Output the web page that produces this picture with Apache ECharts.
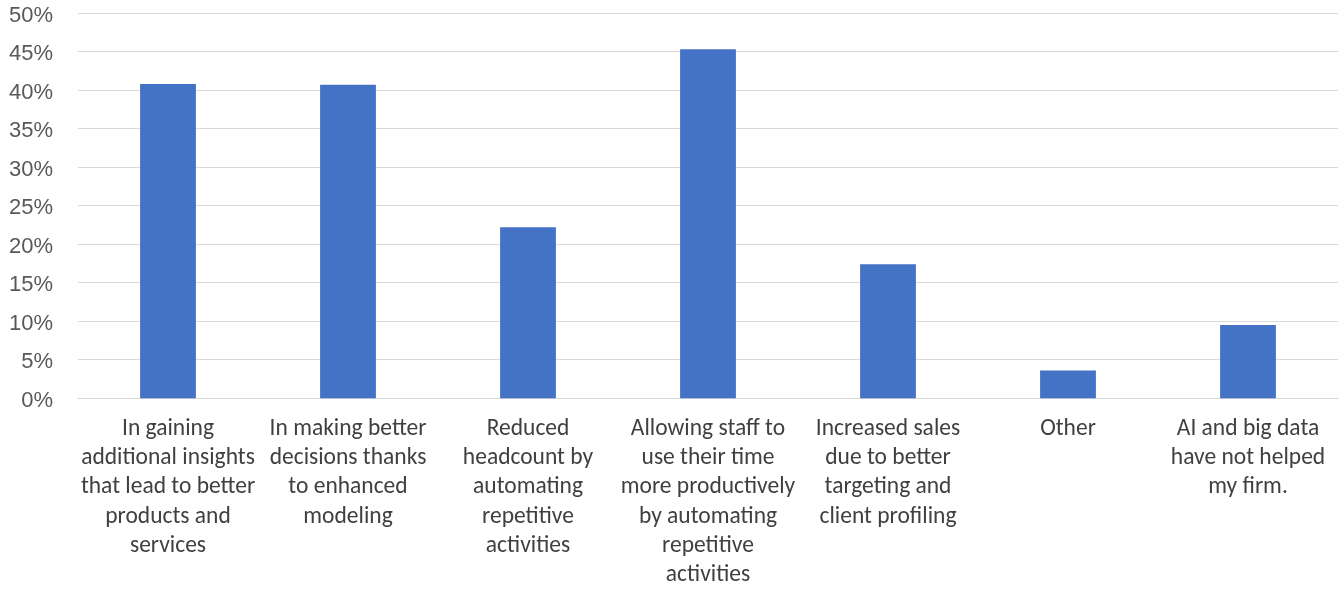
<!DOCTYPE html>
<html>
<head>
<meta charset="utf-8">
<script src="https://cdn.jsdelivr.net/npm/echarts@6/dist/echarts.min.js"></script>
<style>
  html, body { margin: 0; padding: 0; background: #ffffff; }
  #chart { width: 1339px; height: 590px; }
</style>
</head>
<body>
<div id="chart"></div>
<script>
// Survey answers: how AI and big data have helped firms
const categories = [
  'In gaining\nadditional insights\nthat lead to better\nproducts and\nservices',
  'In making better\ndecisions thanks\nto enhanced\nmodeling',
  'Reduced\nheadcount by\nautomating\nrepetitive\nactivities',
  'Allowing staff to\nuse their time\nmore productively\nby automating\nrepetitive\nactivities',
  'Increased sales\ndue to better\ntargeting and\nclient profiling',
  'Other',
  'AI and big data\nhave not helped\nmy firm.'
];
const shares = [40.8, 40.7, 22.2, 45.3, 17.4, 3.6, 9.5];
const yTicks = { min: 0, max: 50, step: 5 };

const chart = echarts.init(document.getElementById('chart'), null, { renderer: 'canvas' });
chart.setOption({
  animation: false,
  grid: { left: 78, right: 1, top: 13, bottom: 191, containLabel: false },
  xAxis: {
    type: 'category',
    data: categories,
    axisLine: { show: true, lineStyle: { color: '#d9d9d9', width: 1 } },
    axisTick: { show: false },
    axisLabel: {
      interval: 0,
      margin: 16,
      color: '#404040',
      fontFamily: 'Carlito, Lato',
      fontSize: 23.5,
      lineHeight: 29.3,
      align: 'center'
    }
  },
  yAxis: {
    type: 'value',
    min: yTicks.min,
    max: yTicks.max,
    interval: yTicks.step,
    axisLine: { show: false },
    axisTick: { show: false },
    splitLine: { lineStyle: { color: '#d9d9d9', width: 1 } },
    axisLabel: {
      margin: 25,
      formatter: v => '{p|' + v + '%}',
      rich: {
        p: {
          color: '#595959',
          fontFamily: 'Liberation Sans',
          fontSize: 22,
          padding: [5, 0, 0, 0]
        }
      }
    }
  },
  series: [{
    type: 'bar',
    data: shares,
    barWidth: '31%',
    itemStyle: { color: '#4472c4' }
  }]
});
</script>
</body>
</html>
